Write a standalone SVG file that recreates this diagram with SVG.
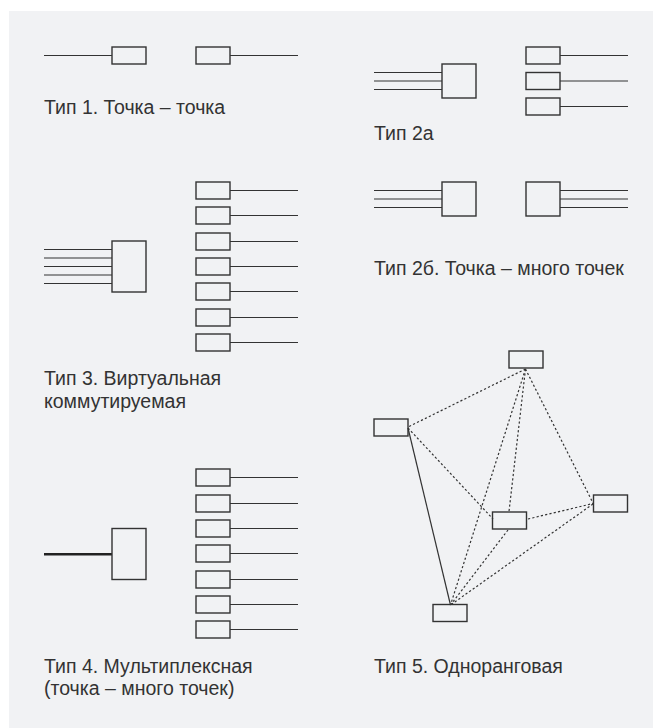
<svg xmlns="http://www.w3.org/2000/svg" width="653" height="728" viewBox="0 0 653 728">
  <style>
    .bg { fill: #f1f2f4; }
    .box { fill: none; stroke: #333; stroke-width: 1.4; }
    .ln { fill: none; stroke: #333; stroke-width: 1.2; }
    .thick { fill: none; stroke: #222; stroke-width: 2.4; }
    .dash { fill: none; stroke: #333; stroke-width: 1.2; stroke-dasharray: 2.2 2.2; }
    .lbl { font-family: "Liberation Sans", Arial, sans-serif; font-size: 19.5px; fill: #333; }
  </style>
  <defs>
    <!-- small terminal with a line out to the right -->
    <g id="termR">
      <rect class="box" x="0" y="0" width="34" height="17"/>
      <line class="ln" x1="34" y1="8.5" x2="102" y2="8.5"/>
    </g>
  </defs>

  <rect class="bg" x="9" y="11" width="644" height="717"/>

  <!-- Type 1 -->
  <g id="type1">
    <line class="ln" x1="44" y1="55.5" x2="112" y2="55.5"/>
    <rect class="box" x="112" y="47" width="34" height="17"/>
    <use href="#termR" x="196" y="47"/>
    <text class="lbl" x="44" y="114">Тип 1. Точка – точка</text>
  </g>

  <!-- Type 2a -->
  <g id="type2a">
    <line class="ln" x1="374" y1="72.5" x2="442" y2="72.5"/>
    <line class="ln" x1="374" y1="81" x2="442" y2="81"/>
    <line class="ln" x1="374" y1="89.5" x2="442" y2="89.5"/>
    <rect class="box" x="442" y="64" width="34" height="34"/>
    <use href="#termR" x="526" y="47"/>
    <use href="#termR" x="526" y="72.5"/>
    <use href="#termR" x="526" y="98"/>
    <text class="lbl" x="374" y="140">Тип 2а</text>
  </g>

  <!-- Type 2b -->
  <g id="type2b">
    <line class="ln" x1="374" y1="190.5" x2="442" y2="190.5"/>
    <line class="ln" x1="374" y1="199" x2="442" y2="199"/>
    <line class="ln" x1="374" y1="207.5" x2="442" y2="207.5"/>
    <rect class="box" x="442" y="182" width="34" height="34"/>
    <rect class="box" x="526" y="182" width="34" height="34"/>
    <line class="ln" x1="560" y1="190.5" x2="628" y2="190.5"/>
    <line class="ln" x1="560" y1="199" x2="628" y2="199"/>
    <line class="ln" x1="560" y1="207.5" x2="628" y2="207.5"/>
    <text class="lbl" x="374" y="275">Тип 2б. Точка – много точек</text>
  </g>

  <!-- Type 3 -->
  <g id="type3">
    <line class="ln" x1="44" y1="249.5" x2="112" y2="249.5"/>
    <line class="ln" x1="44" y1="258" x2="112" y2="258"/>
    <line class="ln" x1="44" y1="266.5" x2="112" y2="266.5"/>
    <line class="ln" x1="44" y1="275" x2="112" y2="275"/>
    <line class="ln" x1="44" y1="283.5" x2="112" y2="283.5"/>
    <rect class="box" x="112" y="241" width="34" height="51"/>
    <use href="#termR" x="196" y="182"/>
    <use href="#termR" x="196" y="207"/>
    <use href="#termR" x="196" y="233"/>
    <use href="#termR" x="196" y="258"/>
    <use href="#termR" x="196" y="283"/>
    <use href="#termR" x="196" y="309"/>
    <use href="#termR" x="196" y="334"/>
    <text class="lbl" x="44" y="385">Тип 3. Виртуальная</text>
    <text class="lbl" x="44" y="407.5">коммутируемая</text>
  </g>

  <!-- Type 4 -->
  <g id="type4">
    <line class="thick" x1="44" y1="554.3" x2="112" y2="554.3"/>
    <rect class="box" x="112" y="528.5" width="34" height="51"/>
    <use href="#termR" x="196" y="469"/>
    <use href="#termR" x="196" y="495"/>
    <use href="#termR" x="196" y="520"/>
    <use href="#termR" x="196" y="545"/>
    <use href="#termR" x="196" y="571"/>
    <use href="#termR" x="196" y="596"/>
    <use href="#termR" x="196" y="621"/>
    <text class="lbl" x="44" y="672.5">Тип 4. Мультиплексная</text>
    <text class="lbl" x="44" y="695">(точка – много точек)</text>
  </g>

  <!-- Type 5: peer-to-peer mesh -->
  <g id="type5-links">
    <line class="ln" x1="408" y1="428" x2="450.5" y2="605"/>
    <line class="dash" x1="525.5" y1="369" x2="408" y2="427"/>
    <line class="dash" x1="525.5" y1="369" x2="509" y2="511.5"/>
    <line class="dash" x1="525.5" y1="369" x2="450.5" y2="605"/>
    <line class="dash" x1="525.5" y1="369" x2="593" y2="503"/>
    <line class="dash" x1="408" y1="428" x2="493" y2="519"/>
    <line class="dash" x1="528" y1="519" x2="593" y2="503.5"/>
    <line class="dash" x1="508" y1="530" x2="450.5" y2="605"/>
    <line class="dash" x1="593" y1="504" x2="450.5" y2="605"/>
  </g>
  <g id="type5-nodes">
    <rect class="box" x="509" y="351" width="34" height="17"/>
    <rect class="box" x="374" y="419" width="34" height="17"/>
    <rect class="box" x="593.5" y="495" width="34" height="17"/>
    <rect class="box" x="492.5" y="512" width="34" height="17"/>
    <rect class="box" x="433" y="604.5" width="34" height="17"/>
  </g>
  <text class="lbl" x="374" y="673">Тип 5. Одноранговая</text>
</svg>
